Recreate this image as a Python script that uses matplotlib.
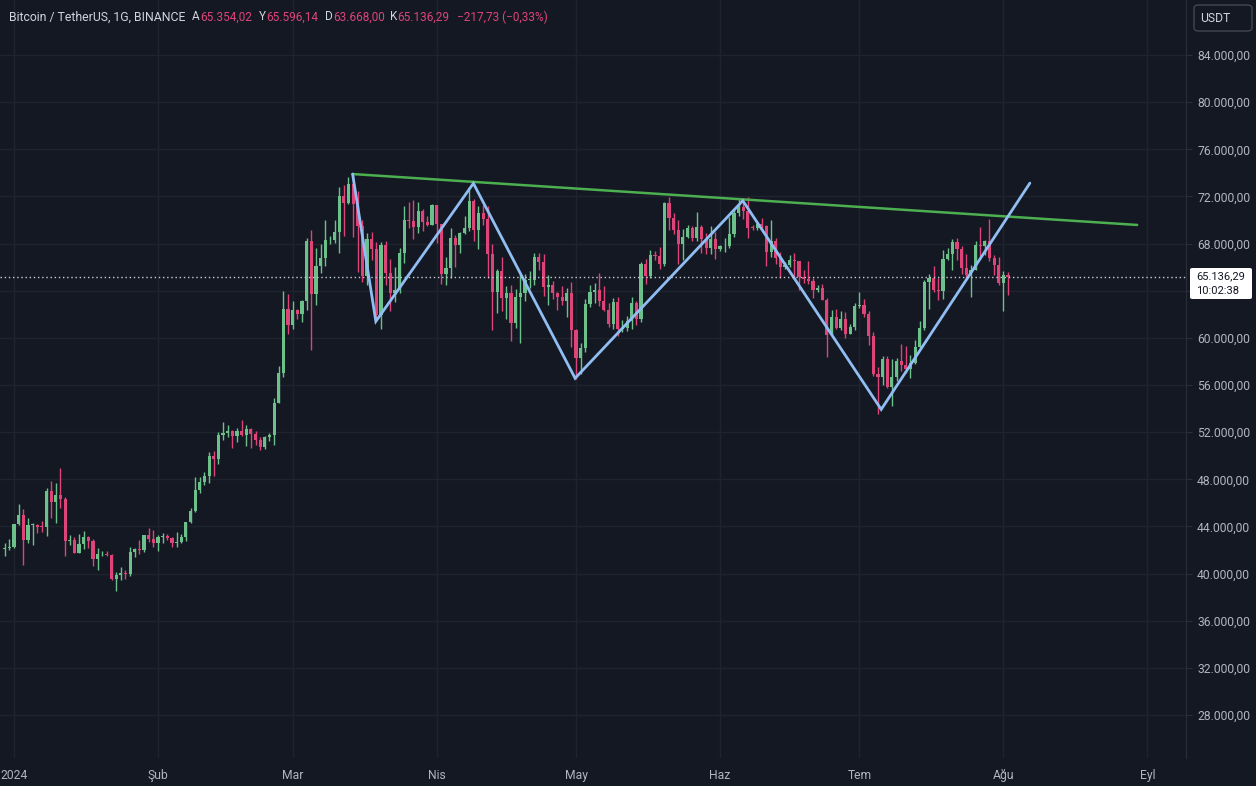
import numpy as np
import pandas as pd
import matplotlib
matplotlib.use("Agg")
import matplotlib.pyplot as plt
from matplotlib.patches import FancyBboxPatch

plt.rcParams["font.family"] = ["Roboto", "DejaVu Sans"]

# BTCUSDT daily candles, 30 Dec 2023 .. 2 Aug 2024
start_date = "2023-12-30"

opens = [
    42070, 42140,
    42280, 44180, 44950, 42850, 44150, 44160, 43960, 43930, 46970, 46110, 46630, 46340, 42780, 42840, 41730, 42510,
    43140, 42770, 41260, 41620, 41660, 41580, 39570, 39890, 40080, 39930, 41810, 42120, 42030, 43300, 42940,
    42580, 43080, 43190, 43000, 42580, 42700, 43090, 44340, 45290, 47130, 47750, 48290, 49950, 49700, 51800,
    51930, 52140, 51650, 52140, 51780, 52280, 51850, 51300, 50740, 51570, 51730, 54480, 57040, 62430,
    61130, 62390, 61990, 63110, 68250, 63720, 66070, 66810, 68270, 68330, 68950, 72070, 71420, 73040, 71370, 69480,
    65290, 68390, 67550, 61910, 67910, 65490, 63770, 64030, 67210, 69990, 69890, 69390, 70740, 69830, 69600,
    71280, 69650, 65460, 65950, 68510, 67840, 68900, 69360, 71620, 69150, 70590, 70060, 67120, 63920, 65660,
    63420, 63790, 61280, 63470, 63820, 64940, 64940, 66840, 66400, 64290, 64500, 63770, 63460, 63120, 63840,
    60640, 58250, 59120, 62890, 63890, 64030, 63160, 62330, 61190, 63070, 60790, 60820, 61450, 62940, 61580, 66270,
    65230, 67050, 66940, 66270, 71450, 70140, 69120, 67930, 68530, 69290, 68510, 69390, 68370, 67630, 68350,
    67530, 67760, 67790, 68800, 70570, 71080, 70760, 69340, 69310, 69650, 69510, 67320, 68240, 66750, 66010,
    66190, 66640, 66490, 65130, 64960, 64830, 64100, 64250, 63180, 60280, 61790, 60830, 61600, 60320, 60890,
    62680, 62770, 62020, 60170, 56960, 56660, 58230, 55850, 56700, 58050, 57720, 57340, 57890, 59200, 60800, 64720,
    65040, 64090, 63970, 66700, 67150, 68170, 67530, 65930, 65370, 65800, 67900, 67810, 68250, 66780, 66190,
    64620, 65354.02,
]
highs = [
    42600, 42900,
    44200, 45880, 45500, 44730, 44300, 44230, 44490, 47250, 47890, 47700, 48970, 46500, 43260, 43070, 43400, 43580,
    43200, 42930, 42200, 41880, 41880, 41680, 40130, 40550, 40280, 42230, 42200, 42840, 43310, 43880, 43740,
    43290, 43480, 43380, 43120, 43500, 43400, 44380, 45600, 48200, 48170, 48590, 50330, 50370, 52040, 52820,
    52580, 52200, 52360, 52990, 52570, 52370, 52080, 51550, 51690, 51950, 54910, 57580, 64000, 63680,
    63110, 62430, 63230, 68500, 69170, 67640, 67980, 69990, 68680, 69990, 72800, 72970, 73640, 73780, 72420, 70020,
    68920, 68950, 68120, 68100, 68200, 66650, 65980, 67620, 71150, 71560, 71730, 71550, 70920, 70330, 71370,
    71290, 69670, 66900, 69290, 68720, 69000, 70330, 72800, 71760, 71170, 71260, 71230, 67930, 65840, 66870,
    64360, 64480, 64130, 65450, 65390, 65700, 67230, 67200, 67080, 65300, 64800, 63920, 64360, 64230, 64730,
    60780, 59600, 63300, 64500, 64650, 65500, 64390, 62990, 63420, 63470, 61490, 61820, 63450, 63100, 66440, 66680,
    67450, 67390, 67700, 71500, 71980, 70630, 70040, 69270, 69570, 69500, 70650, 69550, 68900, 69520, 69000,
    67860, 68450, 70290, 71060, 71760, 71630, 71990, 69580, 69850, 70180, 69560, 69990, 68450, 67300, 66400,
    66990, 67200, 66490, 65730, 66480, 65070, 64510, 64530, 63370, 62380, 62480, 62300, 62200, 61200, 63000,
    63860, 63300, 62270, 60500, 57560, 58480, 58440, 58240, 58300, 59470, 59350, 58530, 59830, 61420, 64900, 65380,
    66130, 65120, 67440, 67620, 68370, 68480, 67800, 67100, 66170, 68230, 69400, 68320, 70080, 67000, 66820,
    65660, 65596.14,
]
lows = [
    41520, 41960,
    42180, 44150, 40750, 42630, 42450, 43420, 43560, 43200, 44750, 44300, 45600, 41500, 42430, 41720, 41720, 42050,
    42200, 40680, 40280, 41450, 41500, 39430, 38555, 39490, 39500, 39820, 41400, 41620, 41800, 42680, 42280,
    41880, 42570, 42880, 42220, 42260, 42570, 42790, 44330, 45240, 46800, 47550, 47700, 48300, 49270, 51320,
    51560, 50620, 51160, 51710, 50860, 50630, 50940, 50510, 50580, 51290, 50900, 54450, 56690, 60360,
    60790, 61590, 61320, 62340, 59000, 62800, 65540, 66080, 67950, 68070, 67190, 68620, 71330, 68550, 65630, 64780,
    64520, 66600, 61500, 60770, 64520, 62260, 63050, 63820, 66390, 69280, 68380, 68900, 69070, 69500, 69560,
    68060, 64550, 64490, 65060, 66010, 67240, 68830, 69040, 68210, 67520, 69560, 65100, 60660, 62130, 62300,
    61620, 59770, 60800, 59600, 63090, 64240, 64500, 65780, 63570, 62800, 63290, 62400, 62820, 61800, 59190,
    56550, 56940, 58810, 62600, 62980, 62700, 62280, 60880, 60750, 60190, 60480, 60620, 60750, 61110, 61330, 64590,
    65110, 66600, 65850, 66060, 69160, 68830, 66300, 66600, 68480, 68250, 68250, 67200, 67120, 67130, 66670,
    67380, 67310, 67610, 68560, 70380, 70120, 68500, 69190, 69130, 69200, 66060, 66900, 66300, 65080, 65880,
    66050, 64970, 64060, 64690, 64530, 63380, 63910, 63180, 58400, 60230, 60710, 60630, 60000, 60320, 60670,
    62500, 61800, 59400, 56770, 53500, 56020, 55720, 54260, 56300, 57160, 57050, 56560, 57770, 59150, 60640, 62430,
    63880, 63230, 63300, 66620, 65790, 66570, 65440, 65110, 63450, 65750, 66670, 67070, 66500, 65300, 64520,
    62300, 63668.00,
]
closes = [
    42140, 42280,
    44180, 44950, 42850, 44150, 44160, 43960, 43930, 46970, 46110, 46630, 46340, 42780, 42840, 41730, 42510, 43140,
    42770, 41260, 41620, 41660, 41580, 39570, 39890, 40080, 39930, 41810, 42120, 42030, 43300, 42940, 42580,
    43080, 43190, 43000, 42580, 42700, 43090, 44340, 45290, 47130, 47750, 48290, 49950, 49700, 51800, 51930,
    52140, 51650, 52140, 51780, 52280, 51850, 51300, 50740, 51570, 51730, 54480, 57040, 62430, 61130,
    62390, 61990, 63110, 68250, 63720, 66070, 66810, 68270, 68330, 68950, 72070, 71420, 73040, 71370, 69480, 65290,
    68390, 67550, 61910, 67910, 65490, 63770, 64030, 67210, 69990, 69890, 69390, 70740, 69830, 69600, 71280,
    69650, 65460, 65950, 68510, 67840, 68900, 69360, 71620, 69150, 70590, 70060, 67120, 63920, 65660, 63420,
    63790, 61280, 63470, 63820, 64940, 64940, 66840, 66400, 64290, 64500, 63770, 63460, 63120, 63840, 60640,
    58250, 59120, 62890, 63890, 64030, 63160, 62330, 61190, 63070, 60790, 60820, 61450, 62940, 61580, 66270, 65230,
    67050, 66940, 66270, 71450, 70140, 69120, 67930, 68530, 69290, 68510, 69390, 68370, 67630, 68350, 67530,
    67760, 67790, 68800, 70570, 71080, 70760, 69340, 69310, 69650, 69510, 67320, 68240, 66750, 66010, 66190,
    66640, 66490, 65130, 64960, 64830, 64100, 64250, 63180, 60280, 61790, 60830, 61600, 60320, 60890, 62680,
    62770, 62020, 60170, 56960, 56660, 58230, 55850, 56700, 58050, 57720, 57340, 57890, 59200, 60800, 64720, 65040,
    64090, 63970, 66700, 67150, 68170, 67530, 65930, 65370, 65800, 67900, 67810, 68250, 66780, 66190, 64620,
    65354.02, 65136.29,
]

# drawn pattern lines: (day number from 1 Jan 2024, price)
resist_days = [72.9, 241.8]
resist_prices = [73900, 69580]
zigzag_days = [72.9, 77.9, 98.9, 120.8, 156.9, 186.7, 218.7]
zigzag_prices = [73900, 61400, 73110, 56570, 71640, 53930, 73130]

month_starts = ["2024-01-01", "2024-02-01", "2024-03-01", "2024-04-01", "2024-05-01",
                "2024-06-01", "2024-07-01", "2024-08-01", "2024-09-01"]
month_labels = ["2024", "Şub", "Mar", "Nis", "May", "Haz", "Tem", "Ağu", "Eyl"]
price_ticks = list(range(28000, 84001, 4000))
last_price = 65136.29
countdown = "10:02:38"

BG = "#141823"
GRID = "#1f232e"
UP = "#6cc18a"
DOWN = "#df4479"
TXT = "#b2b5be"

W, H = 1256, 786
fig = plt.figure(figsize=(W / 100, H / 100), dpi=100, facecolor=BG)
ax = fig.add_axes([0, 28 / H, 1186 / W, 758 / H], facecolor=BG)

base = pd.Timestamp("2024-01-01")
dates = pd.date_range(start_date, periods=len(closes), freq="D")
x = np.asarray((dates - base).days, dtype=float)
o = np.array(opens, dtype=float)
h = np.array(highs, dtype=float)
l = np.array(lows, dtype=float)
c = np.array(closes, dtype=float)
h = np.maximum(h, np.maximum(o, c))
l = np.minimum(l, np.minimum(o, c))
up = c >= o
cols = np.where(up, UP, DOWN)

# pixel mapping: 1 Jan at x=14px, 4.645 px per day; 84k at y=55px, 11.786 px per 1000
px_day = 4.645
px_k = 11.786
ax.set_xlim(-14 / px_day, (1186 - 14) / px_day)
ax.set_ylim(84000 - (758 - 55) / px_k * 1000, 84000 + 55 / px_k * 1000)

ax.vlines(x, l, h, colors=cols, linewidth=1, zorder=3)
body_lo = np.minimum(o, c)
body_h = np.maximum(np.abs(c - o), 70)
ax.bar(x, body_h, bottom=body_lo, width=0.68, color=cols, linewidth=0, zorder=4)

ax.plot(resist_days, resist_prices, color="#4caf50", linewidth=1.8, zorder=5, solid_capstyle="round")
ax.plot(zigzag_days, zigzag_prices, color="#90bdf2", linewidth=2.0, zorder=6,
        solid_capstyle="round", solid_joinstyle="miter")

ax.axhline(last_price, color="#c8ccd4", linewidth=1, linestyle=(0, (1, 2)), zorder=7)


def fmt_price(v):
    return f"{v:,.2f}".replace(",", "X").replace(".", ",").replace("X", ".")


month_x = [(pd.Timestamp(m) - base).days for m in month_starts]
ax.set_xticks(month_x)
ax.set_xticklabels(month_labels)
ax.set_yticks(price_ticks)
# the scale label sitting under the last-price badge is hidden by it
ax.set_yticklabels(["" if abs(v - last_price) < 1500 else fmt_price(v) for v in price_ticks])
ax.yaxis.tick_right()
ax.tick_params(axis="y", length=4, color="#2a2e39", pad=4, labelsize=8.7, labelcolor=TXT)
ax.tick_params(axis="x", length=0, pad=8, labelsize=8.7, labelcolor=TXT)
ax.grid(True, color=GRID, linewidth=1, zorder=0)
ax.set_axisbelow(True)
for s in ["top", "left", "bottom"]:
    ax.spines[s].set_visible(False)
ax.spines["right"].set_color("#2a2e39")


def fx(px):
    return px / W


def fy(py):
    return 1 - py / H


# header
hy = fy(17)
fig.text(fx(9), hy, "Bitcoin / TetherUS, 1G, BINANCE", color="#d1d4dc", fontsize=8.8, va="center")
header = [(192, "A", "#d1d4dc"), (200, "65.354,02", DOWN), (259, "Y", "#d1d4dc"), (266, "65.596,14", DOWN),
          (325, "D", "#d1d4dc"), (333, "63.668,00", DOWN), (390, "K", "#d1d4dc"), (397, "65.136,29", DOWN),
          (457, "\u2212217,73 (\u22120,33%)", DOWN)]
for hx, t, col in header:
    fig.text(fx(hx), hy, t, color=col, fontsize=8.5, va="center")

# USDT box
fig.patches.append(FancyBboxPatch((fx(1194), fy(31)), fx(58), 26 / H, boxstyle="round,pad=0,rounding_size=0.004",
                                  transform=fig.transFigure, facecolor=BG, edgecolor="#434651", linewidth=1))
fig.text(fx(1200), fy(18), "USDT", color="#d1d4dc", fontsize=8.7, va="center")

# last price label
fig.patches.append(FancyBboxPatch((fx(1190), fy(299)), fx(62), 31 / H, boxstyle="round,pad=0,rounding_size=0.002",
                                  transform=fig.transFigure, facecolor="#ffffff", edgecolor="none", zorder=10))
fig.text(fx(1196), fy(276), fmt_price(last_price), color="#131722", fontsize=8.0, va="center", zorder=11)
fig.text(fx(1196), fy(291.5), countdown, color="#131722", fontsize=8.0, va="center", zorder=11)

fig.savefig("out.png", dpi=100, facecolor=BG)
